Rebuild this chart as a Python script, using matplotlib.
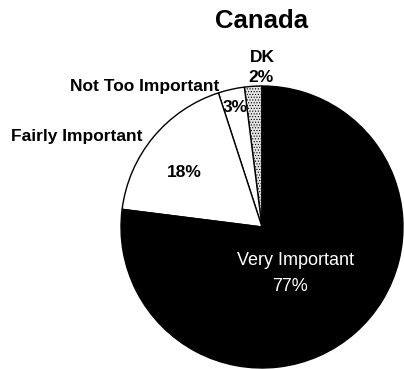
import matplotlib.pyplot as plt

plt.rcParams['font.family'] = ['Liberation Sans', 'DejaVu Sans']
plt.rcParams['hatch.color'] = '#8a8a8a'
plt.rcParams['hatch.linewidth'] = 0.5

labels = ["DK", "Not Too Important", "Fairly Important", "Very Important"]
shares = [2, 3, 18, 77]

fig = plt.figure(figsize=(4.04, 3.69), dpi=100)
ax = fig.add_axes([121 / 404, 1 / 369, 282 / 404, 282 / 369])

wedges, _ = ax.pie(shares, colors=["#e4e4e4", "white", "white", "black"],
                   startangle=90, counterclock=True,
                   wedgeprops=dict(edgecolor="black", linewidth=1.0))
wedges[0].set_hatch("......")
ax.set_xlim(-1, 1)
ax.set_ylim(-1, 1)
ax.set_aspect("equal")

bold = dict(fontweight="bold", ha="center", va="baseline", clip_on=False)
ax.text(-0.004, 1.411, "Canada", fontsize=18.5, **bold)

# DK
ax.text(0.0, 1.170, labels[0], fontsize=12.5, **bold)
ax.text(-0.01, 1.028, f"{shares[0]}%", fontsize=12.5, **bold)
# Not Too Important
ax.text(-0.83, 0.965, labels[1], fontsize=12.5, **bold)
ax.text(-0.191, 0.816, f"{shares[1]}%", fontsize=12.5, **bold)
# Fairly Important
ax.text(-1.316, 0.610, labels[2], fontsize=12.5, **bold)
ax.text(-0.55, 0.355, f"{shares[2]}%", fontsize=12.5, **bold)
# Very Important
ax.text(0.238, -0.270, labels[3], fontsize=13, color="white",
        ha="center", va="baseline")
ax.text(0.199, -0.454, f"{shares[3]}%", fontsize=13, color="white",
        ha="center", va="baseline")

fig.savefig("out.png", dpi=100)
